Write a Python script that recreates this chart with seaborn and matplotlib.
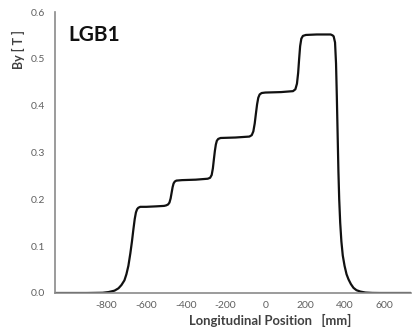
import matplotlib
matplotlib.use("Agg")
import matplotlib.pyplot as plt
import seaborn as sns
import pandas as pd

# Longitudinal position [mm] and field By [T]
position_mm = [-1060, -900, -820, -790, -760, -740, -725, -710, -700, -690, -680, -672,
               -665, -658, -652, -646, -640, -630, -600, -550, -510,
               -500, -490, -483, -477, -472, -467, -462, -456, -448, -420, -350, -290,
               -278, -270, -264, -259, -254, -249, -244, -237, -225, -150, -80,
               -68, -60, -53, -47, -41, -35, -28, -18, 0, 80, 140,
               152, 160, 166, 171, 176, 182, 190, 205, 260, 330,
               340, 345, 352, 357, 361, 365, 369, 373, 378, 384, 391, 400, 410, 420,
               432, 445, 460, 480, 505, 540, 580, 735]
by_tesla = [0.0, 0.0, 0.0005, 0.002, 0.005, 0.01, 0.017, 0.027, 0.04, 0.058, 0.085, 0.11,
            0.135, 0.158, 0.172, 0.179, 0.182, 0.184, 0.184, 0.185, 0.186,
            0.187, 0.189, 0.193, 0.202, 0.214, 0.226, 0.234, 0.238, 0.240, 0.241, 0.242, 0.244,
            0.246, 0.252, 0.266, 0.285, 0.303, 0.317, 0.325, 0.329, 0.331, 0.332, 0.334,
            0.337, 0.345, 0.362, 0.383, 0.403, 0.417, 0.424, 0.427, 0.428, 0.429, 0.431,
            0.435, 0.447, 0.470, 0.500, 0.527, 0.543, 0.549, 0.551, 0.552, 0.552,
            0.550, 0.548, 0.535, 0.49, 0.42, 0.34, 0.26, 0.20, 0.15, 0.11, 0.08, 0.058, 0.04, 0.029,
            0.019, 0.011, 0.006, 0.003, 0.001, 0.0002, 0.0, 0.0]

x_ticks = [-800, -600, -400, -200, 0, 200, 400, 600]
y_ticks = [0.0, 0.1, 0.2, 0.3, 0.4, 0.5, 0.6]
title_text = "LGB1"
x_label = "Longitudinal Position   [mm]"
y_label = "By [ T ]"

df = pd.DataFrame({"pos": position_mm, "by": by_tesla})

sns.set_theme(style="white")
plt.rcParams["font.family"] = ["Lato", "DejaVu Sans"]

fig = plt.figure(figsize=(4.13, 3.30), dpi=100)
ax = fig.add_axes([55 / 413, 1 - 293 / 330, 356 / 413, 281 / 330])

sns.lineplot(data=df, x="pos", y="by", sort=False, estimator=None,
             color="#111111", linewidth=1.6, ax=ax)

ax.set_xlim(-1060, 735)
ax.set_ylim(0, 0.6)
ax.set_xticks(x_ticks)
ax.set_xticklabels([str(t) for t in x_ticks])
ax.set_yticks(y_ticks)
ax.set_yticklabels([f"{t:.1f}" for t in y_ticks])
ax.tick_params(axis="both", length=0, labelsize=7.5, labelcolor="#606060")
ax.tick_params(axis="x", pad=6)
ax.tick_params(axis="y", pad=7)

for s in ["top", "right"]:
    ax.spines[s].set_visible(False)
for s in ["left", "bottom"]:
    ax.spines[s].set_color("#8a8a8a")
    ax.spines[s].set_linewidth(1.2)

ax.set_xlabel(x_label, fontsize=9.4, fontweight="bold", color="#404040")
ax.xaxis.set_label_coords(0.604, -0.075)
ax.set_ylabel(y_label, fontsize=9, fontweight="bold", color="#404040")
ax.yaxis.set_label_coords(-0.085, 0.865)

ax.text(0.037, 0.918, title_text, transform=ax.transAxes, fontsize=15,
        fontweight="bold", color="#111111", ha="left", va="center")

fig.savefig("out.png", dpi=100)
